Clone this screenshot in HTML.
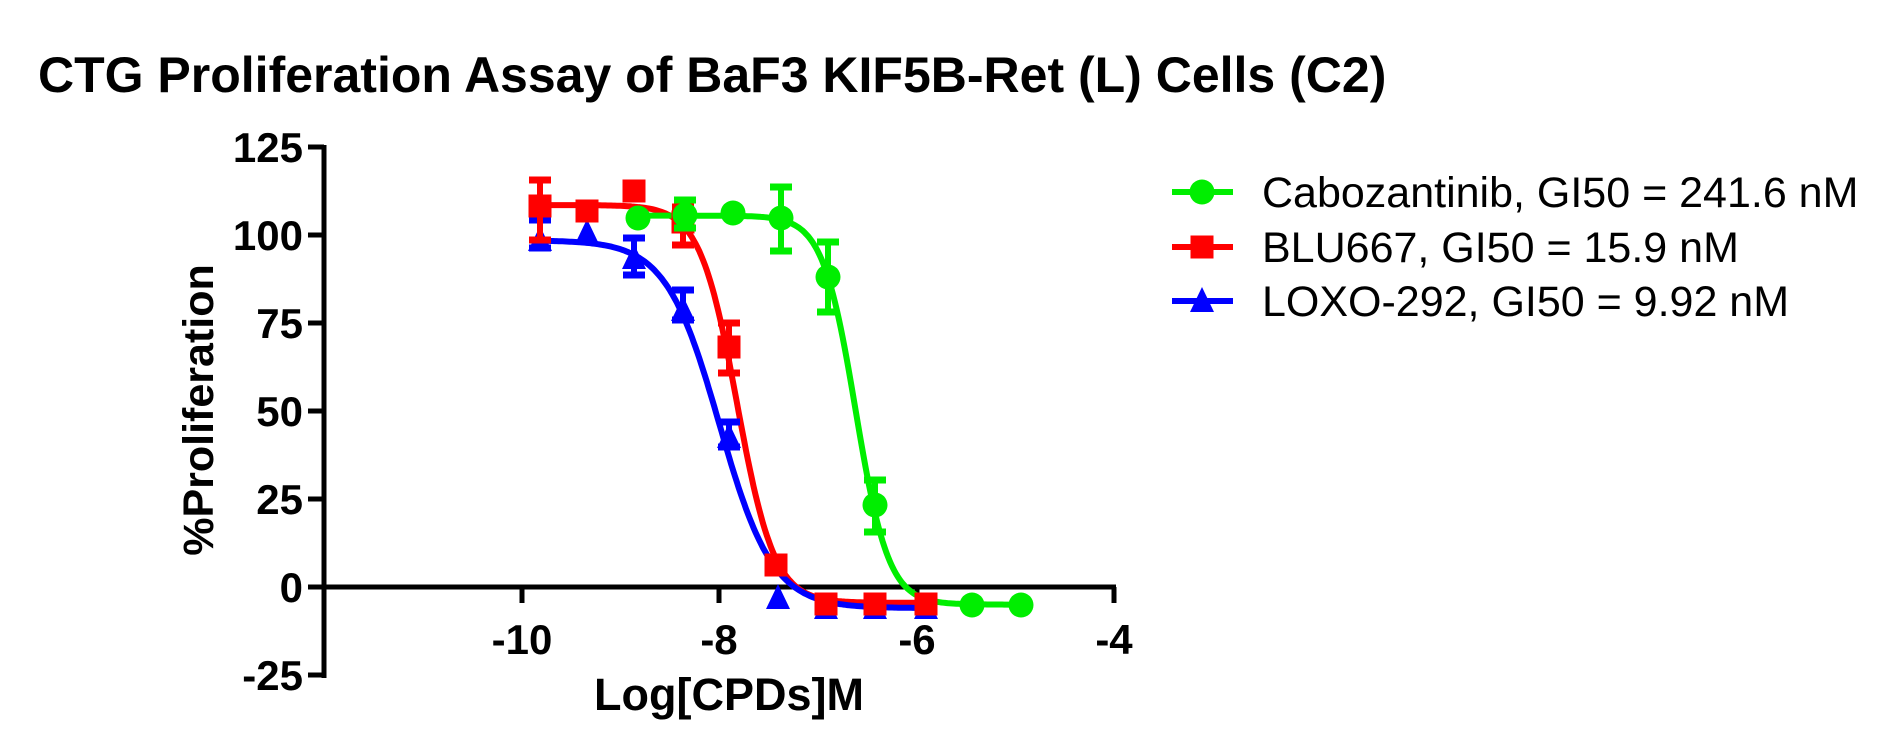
<!DOCTYPE html>
<html><head><meta charset="utf-8"><style>
html,body{margin:0;padding:0;background:#fff;}
svg{display:block;font-family:"Liberation Sans",Arial,sans-serif;}
</style></head><body>
<svg id="s" width="1898" height="750" viewBox="0 0 1898 750" xmlns="http://www.w3.org/2000/svg">
<text x="38" y="92" font-size="50" font-weight="bold" fill="#000">CTG Proliferation Assay of BaF3 KIF5B-Ret (L) Cells (C2)</text>
<g stroke="#000" stroke-width="5" fill="none">
<line x1="324" y1="145" x2="324" y2="678"/>
<line x1="322" y1="587" x2="1116" y2="587"/>
<line x1="308" y1="147" x2="324" y2="147"/>
<line x1="308" y1="235" x2="324" y2="235"/>
<line x1="308" y1="323" x2="324" y2="323"/>
<line x1="308" y1="411" x2="324" y2="411"/>
<line x1="308" y1="499" x2="324" y2="499"/>
<line x1="308" y1="587" x2="324" y2="587"/>
<line x1="308" y1="675" x2="324" y2="675"/>
<line x1="522" y1="587" x2="522" y2="603"/>
<line x1="719" y1="587" x2="719" y2="603"/>
<line x1="917" y1="587" x2="917" y2="603"/>
<line x1="1114" y1="587" x2="1114" y2="603"/>
</g>
<g font-size="42" font-weight="bold" text-anchor="end" fill="#000">
<text x="303" y="162">125</text>
<text x="303" y="250">100</text>
<text x="303" y="338">75</text>
<text x="303" y="426">50</text>
<text x="303" y="514">25</text>
<text x="303" y="602">0</text>
<text x="303" y="690">-25</text>
</g>
<g font-size="42" font-weight="bold" text-anchor="middle" fill="#000">
<text x="522" y="654">-10</text>
<text x="719" y="654">-8</text>
<text x="917" y="654">-6</text>
<text x="1114" y="654">-4</text>
<text x="729" y="710" font-size="45">Log[CPDs]M</text>
<text transform="translate(213,410) rotate(-90)" font-size="43">%Proliferation</text>
</g>
<g id="d"></g>
<g font-size="43" fill="#000">
<text x="1262" y="207">Cabozantinib, GI50 = 241.6 nM</text>
<text x="1262" y="262">BLU667, GI50 = 15.9 nM</text>
<text x="1262" y="316">LOXO-292, GI50 = 9.92 nM</text>
</g>
</svg>
<script>
var NS="http://www.w3.org/2000/svg",g=document.getElementById("d");
function X(v){return 522+(v+10)*98.7}
function Y(v){return 587-3.52*v}
function el(t,a){var e=document.createElementNS(NS,t);for(var k in a)e.setAttribute(k,a[k]);g.appendChild(e);return e}
function curve(c,top,bot,x50,h,a,b){var d="";for(var i=0;i<=200;i++){var v=a+(b-a)*i/200;var y=bot+(top-bot)/(1+Math.pow(10,(v-x50)*h));d+=(i?"L":"M")+X(v).toFixed(1)+" "+Y(y).toFixed(1)}el("path",{d:d,stroke:c,"stroke-width":6,fill:"none"})}
function err(c,x,y1,y2){el("line",{x1:x,y1:y1,x2:x,y2:y2,stroke:c,"stroke-width":6});el("line",{x1:x-11,y1:y1,x2:x+11,y2:y1,stroke:c,"stroke-width":7});el("line",{x1:x-11,y1:y2,x2:x+11,y2:y2,stroke:c,"stroke-width":7})}
function mk(type,c,x,y){if(type=="c")el("circle",{cx:x,cy:y,r:12.5,fill:c});else if(type=="s")el("rect",{x:x-11.5,y:y-11.5,width:23,height:23,fill:c});else el("polygon",{points:(x)+","+(y-14)+" "+(x-12)+","+(y+11)+" "+(x+12)+","+(y+11),fill:c})}
var G="#00ee00",R="#ff0000",B="#0000ff";
curve(R,108.5,-4.5,-7.82,2.3,-9.8,-6.0);
curve(B,98.5,-6,-8.0,1.6,-9.8,-6.0);
curve(G,105.5,-5,-6.62,2.6,-8.85,-5.0);
[[540,240,220,248],[587,233],[634,258,238,275],[683,310,290,320],[729,437,422,447],[778,598],[826,608],[875,608],[926,608]].forEach(function(p){if(p[2])err(B,p[0],p[2],p[3]);mk("t",B,p[0],p[1])});
[[540,206,180,240],[587,211],[634,191],[683,222,207,245],[729,347,323,373],[776,565],[826,604],[875,604],[926,604]].forEach(function(p){if(p[2])err(R,p[0],p[2],p[3]);mk("s",R,p[0],p[1])});
[[638,218],[685,215,200,228],[733,213],[781,218,187,251],[828,277,242,312],[875,505,480,532],[972,605],[1021,605]].forEach(function(p){if(p[2])err(G,p[0],p[2],p[3]);mk("c",G,p[0],p[1])});
[[G,"c",192],[R,"s",247],[B,"t",301]].forEach(function(l){el("line",{x1:1172,y1:l[2],x2:1233,y2:l[2],stroke:l[0],"stroke-width":6});mk(l[1],l[0],1202,l[2])});
</script>
</body></html>
